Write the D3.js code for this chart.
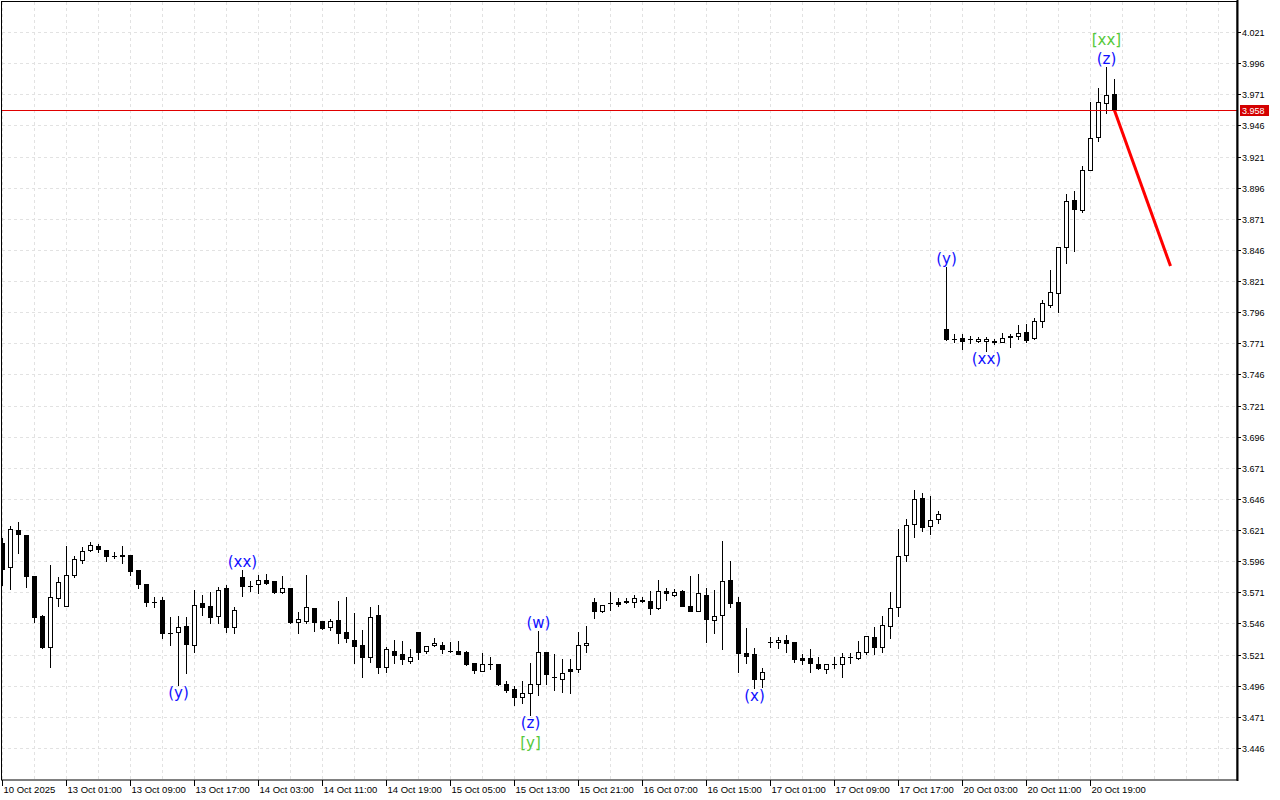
<!DOCTYPE html>
<html>
<head>
<meta charset="utf-8">
<script src="https://cdnjs.cloudflare.com/ajax/libs/d3/7.8.5/d3.min.js"></script>
<style>
  html, body { margin: 0; padding: 0; background: #fff; }
  svg { display: block; }
</style>
</head>
<body>
<div id="chart"></div>
<script>

// H1 candles
var opens = [3.6103,3.5910,3.6210,3.6170,3.5841,3.5519,3.5268,3.5662,3.5602,3.5846,3.5967,3.6047,3.6082,3.6047,3.6004,3.6013,3.6009,3.5889,3.5776,3.5636,
  3.5648,3.5386,3.5388,3.5437,3.5284,3.5621,3.5597,3.5517,3.5742,3.5429,3.5830,3.5761,3.5774,3.5806,3.5800,3.5710,3.5744,3.5469,3.5482,3.5581,
  3.5477,3.5434,3.5485,3.5391,3.5327,3.5284,3.5188,3.5527,3.5108,3.5238,3.5212,3.5158,3.5391,3.5236,3.5284,3.5287,3.5236,3.5238,3.5233,3.5142,
  3.5078,3.5136,3.5132,3.4971,3.4933,3.4867,3.4899,3.4971,3.5228,3.5033,3.5016,3.5094,3.5091,3.5284,3.5634,3.5557,3.5621,3.5632,3.5640,3.5629,
  3.5648,3.5637,3.5581,3.5720,3.5686,3.5720,3.5600,3.5562,3.5686,3.5485,3.5525,3.5809,3.5629,3.5222,3.5214,3.5011,3.5308,3.5308,3.5324,3.5308,
  3.5180,3.5180,3.5132,3.5091,3.5134,3.5132,3.5193,3.5180,3.5228,3.5348,3.5268,3.5437,3.5589,3.6007,3.6258,3.6465,3.6240,3.6298,3.7822,3.7747,
  3.7753,3.7742,3.7726,3.7728,3.7731,3.7720,3.7769,3.7766,3.7798,3.7750,3.7892,3.8015,3.8112,3.8486,3.8859,3.8783,3.9104,3.9369,3.9640,3.9710];

var highs = [3.6146,3.6242,3.6274,3.6170,3.5841,3.5525,3.5929,3.5835,3.6082,3.6004,3.6076,3.6116,3.6095,3.6050,3.6036,3.6082,3.6012,3.5892,3.5780,3.5670,
  3.5670,3.5511,3.5519,3.5511,3.5728,3.5688,3.5715,3.5752,3.5768,3.5589,3.5889,3.5798,3.5849,3.5854,3.5805,3.5841,3.5748,3.5549,3.5849,3.5585,
  3.5480,3.5495,3.5640,3.5672,3.5541,3.5407,3.5589,3.5608,3.5268,3.5327,3.5319,3.5254,3.5395,3.5279,3.5340,3.5311,3.5311,3.5319,3.5236,3.5145,
  3.5220,3.5188,3.5135,3.4998,3.4957,3.4998,3.5142,3.5399,3.5232,3.5212,3.5174,3.5174,3.5388,3.5439,3.5662,3.5608,3.5710,3.5666,3.5666,3.5688,
  3.5674,3.5723,3.5806,3.5747,3.5736,3.5728,3.5843,3.5854,3.5742,3.5728,3.6122,3.5961,3.5674,3.5423,3.5260,3.5100,3.5348,3.5348,3.5367,3.5312,
  3.5212,3.5252,3.5193,3.5135,3.5188,3.5220,3.5220,3.5316,3.5360,3.5431,3.5519,3.5710,3.6218,3.6298,3.6531,3.6505,3.6483,3.6360,3.8325,3.7782,
  3.7782,3.7769,3.7758,3.7758,3.7745,3.7795,3.7785,3.7857,3.7865,3.7911,3.8058,3.8299,3.8486,3.8912,3.8931,3.9134,3.9650,3.9760,3.9927,3.9833];

var lows = [3.5768,3.5739,3.6028,3.5755,3.5469,3.5260,3.5108,3.5602,3.5600,3.5830,3.5947,3.6045,3.6036,3.5963,3.5988,3.5947,3.5846,3.5747,3.5602,3.5589,
  3.5340,3.5284,3.4965,3.5059,3.5228,3.5525,3.5461,3.5461,3.5393,3.5385,3.5682,3.5723,3.5702,3.5774,3.5702,3.5708,3.5461,3.5381,3.5461,3.5401,
  3.5418,3.5407,3.5300,3.5308,3.5140,3.5032,3.5152,3.5059,3.5072,3.5144,3.5132,3.5140,3.5177,3.5220,3.5282,3.5220,3.5233,3.5215,3.5130,3.5064,
  3.5076,3.5091,3.4968,3.4912,3.4805,3.4818,3.4724,3.4888,3.4971,3.4925,3.4907,3.4899,3.5070,3.5233,3.5506,3.5555,3.5565,3.5602,3.5627,3.5594,
  3.5635,3.5535,3.5579,3.5648,3.5684,3.5600,3.5560,3.5560,3.5308,3.5381,3.5258,3.5594,3.5074,3.5144,3.4939,3.4952,3.5273,3.5260,3.5233,3.5148,
  3.5132,3.5072,3.5098,3.5064,3.5100,3.5032,3.5144,3.5172,3.5214,3.5214,3.5233,3.5345,3.5522,3.5963,3.6151,3.6204,3.6175,3.6269,3.7738,3.7718,
  3.7664,3.7712,3.7724,3.7648,3.7702,3.7718,3.7678,3.7747,3.7723,3.7748,3.7839,3.8004,3.7959,3.8353,3.8451,3.8767,3.9100,3.9337,3.9557,3.9578];

var closes = [3.5894,3.6216,3.6175,3.5843,3.5514,3.5268,3.5670,3.5790,3.5846,3.5975,3.6044,3.6087,3.6055,3.6004,3.6004,3.6001,3.5883,3.5774,3.5629,3.5636,
  3.5385,3.5386,3.5429,3.5295,3.5605,3.5594,3.5514,3.5728,3.5434,3.5568,3.5763,3.5761,3.5806,3.5787,3.5712,3.5742,3.5469,3.5498,3.5589,3.5474,
  3.5423,3.5482,3.5385,3.5345,3.5281,3.5193,3.5514,3.5112,3.5252,3.5209,3.5172,3.5188,3.5233,3.5276,3.5300,3.5252,3.5236,3.5217,3.5132,3.5088,
  3.5132,3.5136,3.4976,3.4928,3.4867,3.4899,3.4971,3.5228,3.5051,3.5033,3.5064,3.5075,3.5284,3.5300,3.5562,3.5605,3.5621,3.5616,3.5629,3.5662,
  3.5637,3.5581,3.5718,3.5702,3.5710,3.5602,3.5562,3.5702,3.5498,3.5519,3.5798,3.5621,3.5225,3.5198,3.5011,3.5067,3.5308,3.5324,3.5300,3.5172,
  3.5169,3.5140,3.5100,3.5132,3.5134,3.5188,3.5193,3.5228,3.5356,3.5268,3.5445,3.5581,3.5999,3.6248,3.6457,3.6232,3.6288,3.6336,3.7742,3.7747,
  3.7728,3.7742,3.7747,3.7745,3.7720,3.7750,3.7758,3.7790,3.7736,3.7889,3.8036,3.8120,3.8481,3.8851,3.8786,3.9100,3.9356,3.9646,3.9702,3.9580];

var priceTicks = ['3.446','3.471','3.496','3.521','3.546','3.571','3.596','3.621','3.646','3.671','3.696','3.721',
  '3.746','3.771','3.796','3.821','3.846','3.871','3.896','3.921','3.946','3.971','3.996','4.021'];

var timeTickIndex = [0,8,16,24,32,40,48,56,64,72,80,88,96,104,112,120,128,136];
var timeTickLabels = ['10 Oct 2025','13 Oct 01:00','13 Oct 09:00','13 Oct 17:00','14 Oct 03:00','14 Oct 11:00',
  '14 Oct 19:00','15 Oct 05:00','15 Oct 13:00','15 Oct 21:00','16 Oct 07:00','16 Oct 15:00',
  '17 Oct 01:00','17 Oct 09:00','17 Oct 17:00','20 Oct 03:00','20 Oct 11:00','20 Oct 19:00'];

// wave marks: candle index, text, colour, side, stack level
var waveIndex = [22, 30, 67, 66, 66, 94, 118, 123, 138, 138];
var waveText  = ['(y)', '(xx)', '(w)', '(z)', '[y]', '(x)', '(y)', '(xx)', '(z)', '[xx]'];
var waveColor = ['blue','blue','blue','blue','green','blue','blue','blue','blue','green'];
var waveSide  = ['below','above','above','below','below','below','above','below','above','above'];
var waveLevel = [0, 0, 0, 0, 1, 0, 0, 0, 0, 1];

var lastPrice = 3.958;
var forecastIndex = [139, 146];
var forecastPrice = [3.958, 3.833];


var width = 1280, height = 800;
var plot = {left: 2, top: 2, right: 1237, bottom: 780};

var svg = d3.select('#chart').append('svg')
    .attr('width', width)
    .attr('height', height)
    .style('font-family', '"Liberation Sans", Arial, sans-serif');

var y = d3.scaleLinear().domain([3.446, 4.021]).range([748, 32]);
var x = d3.scaleLinear().domain([0, 139]).range([2.5, 1114.5]);

var snap = function(v) { return Math.round(v) + 0.5; };

var clip = svg.append('defs').append('clipPath').attr('id', 'plotclip')
  .append('rect')
    .attr('x', plot.left).attr('y', plot.top)
    .attr('width', plot.right - plot.left).attr('height', plot.bottom - plot.top);

var g = svg.append('g').attr('clip-path', 'url(#plotclip)');

// grid
var gridX = d3.range(0, 156, 4);
g.append('g').selectAll('line').data(gridX).enter().append('line')
    .attr('x1', function(d) { return x(d); })
    .attr('x2', function(d) { return x(d); })
    .attr('y1', plot.top).attr('y2', plot.bottom)
    .attr('stroke', '#e2e2e2').attr('stroke-dasharray', '3,3');

g.append('g').selectAll('line').data(priceTicks).enter().append('line')
    .attr('x1', plot.left).attr('x2', plot.right)
    .attr('y1', function(d) { return snap(y(+d)); })
    .attr('y2', function(d) { return snap(y(+d)); })
    .attr('stroke', '#e2e2e2').attr('stroke-dasharray', '3,3');

// candles
var candles = g.append('g').selectAll('g').data(d3.range(opens.length)).enter().append('g');

candles.append('line')
    .attr('x1', function(i) { return x(i); })
    .attr('x2', function(i) { return x(i); })
    .attr('y1', function(i) { return snap(y(highs[i])) - 0.5; })
    .attr('y2', function(i) { return snap(y(lows[i])) + 0.5; })
    .attr('stroke', '#000').attr('stroke-width', 1);

candles.each(function(i) {
  var top = snap(y(Math.max(opens[i], closes[i])));
  var bot = snap(y(Math.min(opens[i], closes[i])));
  var el = d3.select(this);
  if (bot - top < 1) {
    el.append('line')
      .attr('x1', x(i) - 2.5).attr('x2', x(i) + 2.5)
      .attr('y1', top).attr('y2', top)
      .attr('stroke', '#000');
  } else {
    el.append('rect')
      .attr('x', x(i) - 2).attr('y', top)
      .attr('width', 4).attr('height', bot - top)
      .attr('fill', closes[i] > opens[i] ? '#fff' : '#000')
      .attr('stroke', '#000');
  }
});

// last price line
g.append('line')
    .attr('x1', plot.left).attr('x2', plot.right)
    .attr('y1', snap(y(lastPrice))).attr('y2', snap(y(lastPrice)))
    .attr('stroke', '#e00000').attr('stroke-width', 1);

// forecast line
g.append('line')
    .attr('x1', x(forecastIndex[0])).attr('y1', y(forecastPrice[0]))
    .attr('x2', x(forecastIndex[1])).attr('y2', y(forecastPrice[1]))
    .attr('stroke', '#ff0000').attr('stroke-width', 3);

// wave labels
svg.append('g').selectAll('text').data(waveIndex).enter().append('text')
    .attr('x', function(d) { return x(d); })
    .attr('y', function(d, i) {
      if (waveSide[i] === 'above') return y(highs[d]) - 3 - 19 * waveLevel[i];
      return y(lows[d]) + 13 + 20 * waveLevel[i];
    })
    .attr('text-anchor', 'middle')
    .style('font-family', '"DejaVu Sans", sans-serif')
    .style('font-size', '15px')
    .attr('fill', function(d, i) { return waveColor[i] === 'green' ? '#55c93a' : '#1010ff'; })
    .text(function(d, i) { return waveText[i]; });

// frame
svg.append('rect')
    .attr('x', plot.left - 0.5).attr('y', plot.top - 0.5)
    .attr('width', plot.right - plot.left + 0.5).attr('height', plot.bottom - plot.top + 0.5)
    .attr('fill', 'none').attr('stroke', '#000');
svg.append('line')
    .attr('x1', plot.right + 0.5).attr('x2', plot.right + 0.5)
    .attr('y1', 0).attr('y2', plot.bottom + 1)
    .attr('stroke', '#000').attr('stroke-width', 2);

// price axis
var py = svg.append('g').selectAll('g').data(priceTicks).enter().append('g')
    .attr('transform', function(d) { return 'translate(0,' + snap(y(+d)) + ')'; });
py.append('line')
    .attr('x1', plot.right + 1).attr('x2', plot.right + 4)
    .attr('stroke', '#000');
py.append('text')
    .attr('x', plot.right + 5).attr('y', 3.5)
    .style('font-size', '9px').attr('fill', '#000')
    .text(function(d) { return d; });

// last price box
var lp = svg.append('g').attr('transform', 'translate(0,' + snap(y(lastPrice)) + ')');
lp.append('rect')
    .attr('x', plot.right + 3).attr('y', -5.5)
    .attr('width', 29).attr('height', 11)
    .attr('fill', '#d40000');
lp.append('text')
    .attr('x', plot.right + 5).attr('y', 3.5)
    .style('font-size', '9px').attr('fill', '#fff')
    .text(lastPrice.toFixed(3));

// time axis
var tx = svg.append('g').selectAll('g').data(timeTickIndex).enter().append('g')
    .attr('transform', function(d) { return 'translate(' + x(d) + ',0)'; });
tx.append('line')
    .attr('y1', plot.bottom).attr('y2', plot.bottom + 6)
    .attr('stroke', '#000');
tx.append('text')
    .attr('x', 1).attr('y', 793)
    .style('font-size', '9.5px').attr('fill', '#000')
    .text(function(d, i) { return timeTickLabels[i]; });

</script>
</body>
</html>
